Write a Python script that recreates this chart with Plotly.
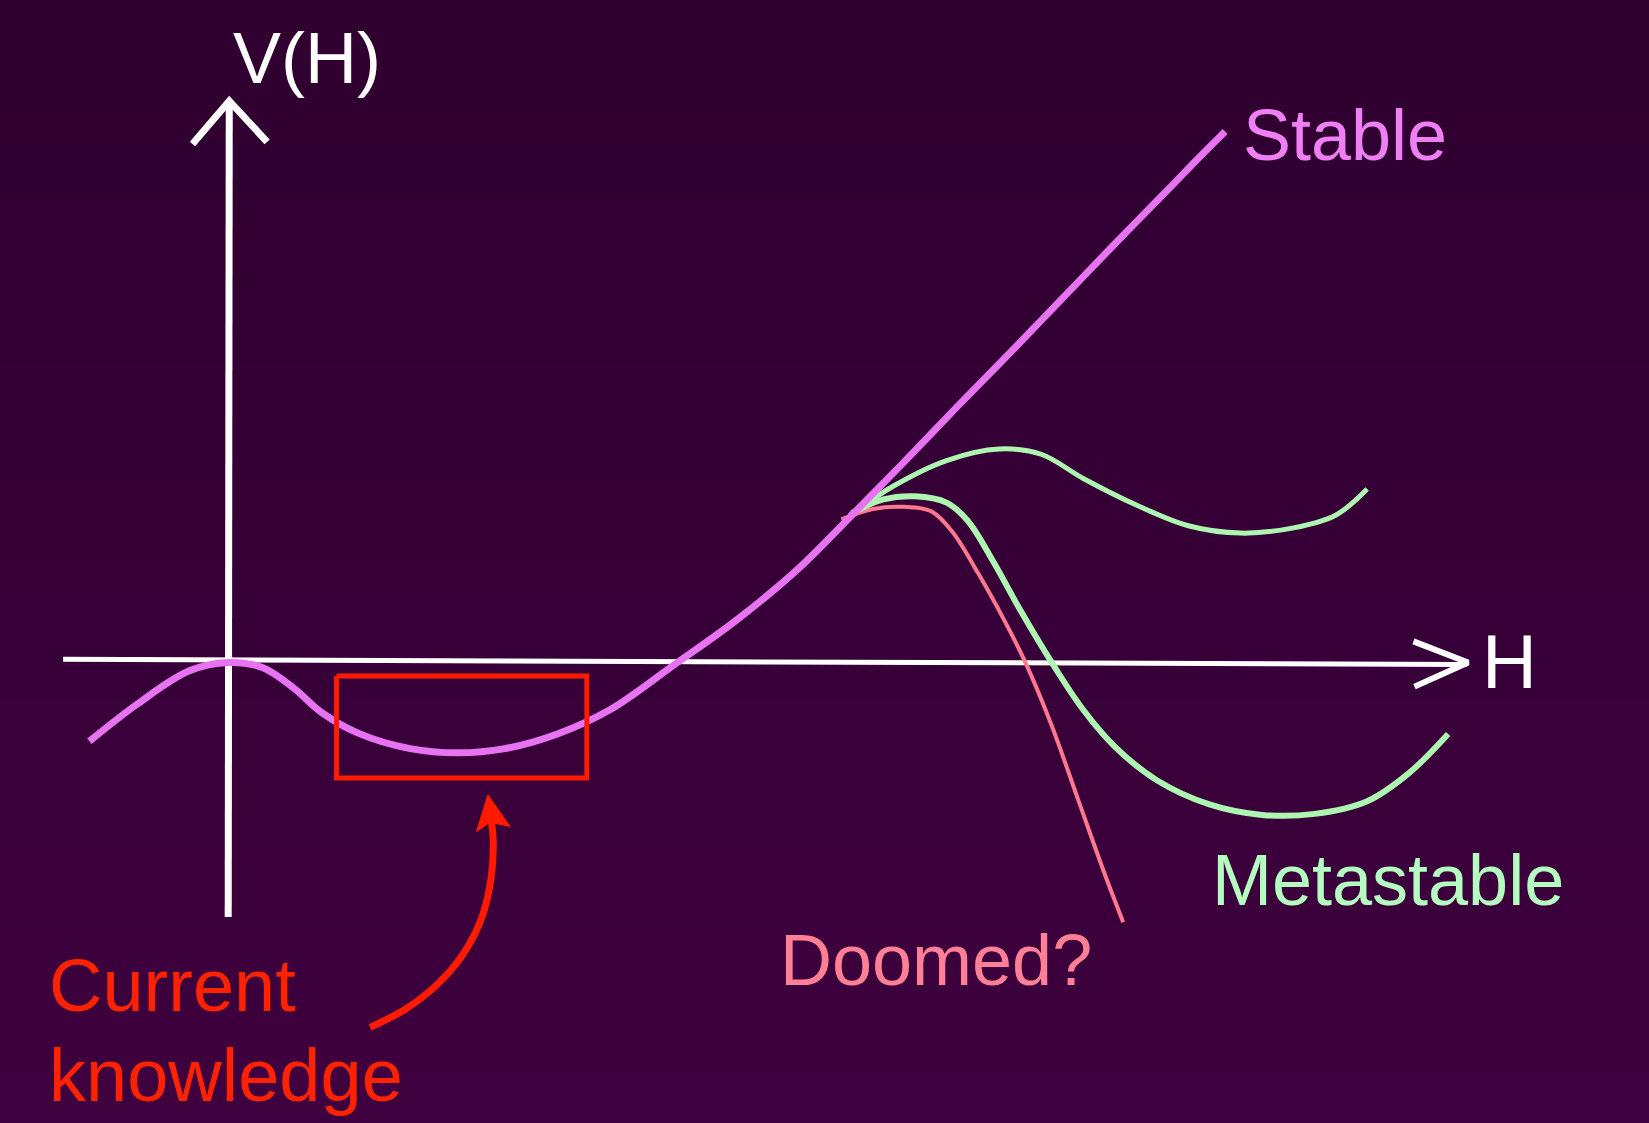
import plotly.graph_objects as go

# ---- data (H, V) in sketch units ----
stable_h = [-1.32, -0.87, -0.37, 0.0, 0.33, 0.63, 0.88, 1.23, 1.73, 2.18, 2.63, 3.13, 3.63, 4.23,
            4.83, 5.43, 5.93, 6.43, 6.93, 7.43, 7.93, 8.43, 8.93, 9.23, 9.48]
stable_v = [-0.76, -0.41, -0.09, -0.01, -0.06, -0.26, -0.48, -0.68, -0.83, -0.87, -0.83, -0.69, -0.46, -0.04,
            0.39, 0.89, 1.39, 1.90, 2.42, 2.93, 3.45, 3.97, 4.48, 4.79, 5.04]

meta_hi_h = [5.91, 6.33, 6.83, 7.33, 7.73, 8.13, 8.63, 9.13, 9.63, 10.13, 10.53, 10.83]
meta_hi_v = [1.39, 1.67, 1.91, 2.02, 1.97, 1.74, 1.49, 1.29, 1.22, 1.27, 1.39, 1.64]

meta_lo_h = [5.93, 6.23, 6.53, 6.83, 7.03, 7.28, 7.53, 7.83, 8.13, 8.43, 8.83, 9.33, 9.83, 10.33, 10.83, 11.23, 11.60]
meta_lo_v = [1.41, 1.54, 1.57, 1.51, 1.34, 0.94, 0.49, -0.01, -0.46, -0.81, -1.13, -1.36, -1.46, -1.45, -1.33, -1.06, -0.69]

doomed_h = [5.83, 6.13, 6.43, 6.68, 6.88, 7.13, 7.38, 7.58, 7.83, 8.08, 8.33, 8.51]
doomed_v = [1.35, 1.45, 1.47, 1.43, 1.24, 0.84, 0.39, -0.01, -0.61, -1.31, -2.01, -2.48]

# axes of the sketch
v_axis_h = [0.0, 0.01]
v_axis_v = [-2.43, 5.33]
v_head_h = [-0.34, 0.01, 0.37]
v_head_v = [4.92, 5.33, 4.94]
h_axis_h = [-1.57, 11.78]
h_axis_v = [0.02, -0.03]
h_head_h = [11.27, 11.79, 11.28]
h_head_v = [0.19, -0.01, -0.24]

# "current knowledge" box and arrow
box_h = [1.03, 3.41]
box_v = [-0.14, -1.11]
arrow_h = [1.35, 1.68, 1.98, 2.23, 2.41, 2.50, 2.52, 2.50]
arrow_v = [-3.48, -3.31, -3.08, -2.79, -2.44, -2.06, -1.71, -1.50]
head_h = [2.47, 2.36, 2.49, 2.68, 2.47]
head_v = [-1.27, -1.62, -1.53, -1.57, -1.27]

# labels
labels = ["V(H)", "H", "Stable", "Metastable", "Doomed?", "Current", "knowledge"]
label_h = [0.03, 11.90, 9.63, 9.34, 5.23, -1.72, -1.72]
label_v = [5.74, 0.0, 5.01, -2.08, -2.84, -3.08, -3.94]

WHITE = "#ffffff"
MAGENTA = "#e873f2"
GREEN = "#aef5b2"
PINK = "#ff7890"
RED = "#ff1a00"

fig = go.Figure()

def line(x, y, color, width, shape="spline"):
    fig.add_trace(go.Scatter(x=x, y=y, mode="lines", hoverinfo="skip",
                             line=dict(color=color, width=width, shape=shape)))

line(h_axis_h, h_axis_v, WHITE, 5, "linear")
line(h_head_h, h_head_v, WHITE, 6, "linear")
line(v_axis_h, v_axis_v, WHITE, 7, "linear")
line(v_head_h, v_head_v, WHITE, 7, "linear")

line(doomed_h, doomed_v, PINK, 4)
line(meta_hi_h, meta_hi_v, GREEN, 5)
line(meta_lo_h, meta_lo_v, GREEN, 6)
line(stable_h, stable_v, MAGENTA, 7)

# box
line([box_h[0], box_h[1], box_h[1], box_h[0], box_h[0]],
     [box_v[0], box_v[0], box_v[1], box_v[1], box_v[0]], RED, 5, "linear")
line(arrow_h, arrow_v, RED, 7)
fig.add_trace(go.Scatter(x=head_h, y=head_v, mode="lines", fill="toself", fillcolor=RED,
                         line=dict(color=RED, width=1), hoverinfo="skip"))

label_colors = [WHITE, WHITE, "#f07ff5", "#b4fcc0", "#ff7f96", "#ff2200", "#ff2200"]
label_sizes = [72, 76, 72, 72, 72, 74, 74]
for t, x, y, c, s in zip(labels, label_h, label_v, label_colors, label_sizes):
    fig.add_annotation(x=x, y=y, text=t, showarrow=False, xanchor="left", yanchor="middle",
                       font=dict(family="Liberation Sans, Arial, sans-serif", size=s, color=c))

# background vertical gradient
top = (0x2f, 0x00, 0x30)
bot = (0x3e, 0x00, 0x3e)
n = 40
for i in range(n):
    f = i / (n - 1)
    col = "rgb(%d,%d,%d)" % tuple(round(top[k] + (bot[k] - top[k]) * f) for k in range(3))
    fig.add_shape(type="rect", xref="paper", yref="paper", x0=0, x1=1,
                  y0=1 - (i + 1) / n, y1=1 - i / n + 0.001, fillcolor=col, line_width=0, layer="below")

fig.update_layout(
    width=1649, height=1123, autosize=False,
    margin=dict(l=0, r=0, t=0, b=0),
    paper_bgcolor="#370037", plot_bgcolor="rgba(0,0,0,0)",
    showlegend=False,
    xaxis=dict(range=[-2.17, 13.51], visible=False, fixedrange=True),
    yaxis=dict(range=[-4.39, 6.29], visible=False, fixedrange=True),
)

fig.write_html("out.html", config={"displayModeBar": False},
               post_script="document.body.style.margin='0';document.body.style.background='#370037';document.body.style.overflow='hidden';")
